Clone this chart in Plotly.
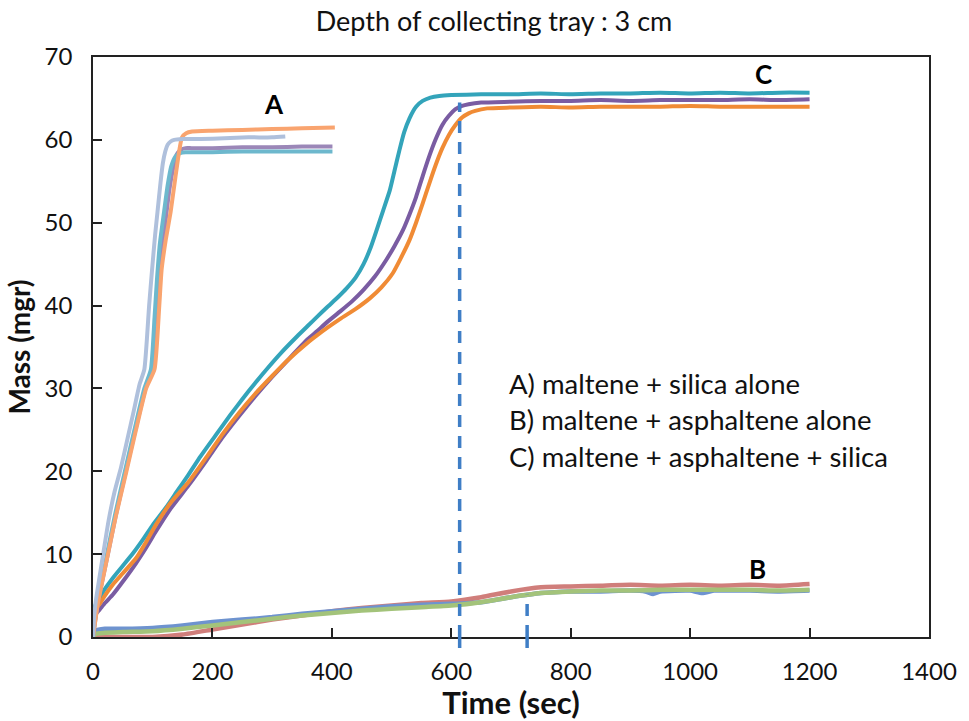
import plotly.graph_objects as go

# ---------------- data (time in sec, mass in mgr) ----------------
# A) maltene + silica alone
a_blue_t = [0, 2, 5, 10, 17, 26, 36, 47, 58, 68, 78, 86, 94, 99, 104, 108, 113, 117, 121, 125, 130, 136, 150, 180, 220, 260, 300, 322]
a_blue_m = [0, 2.5, 4.5, 6.8, 10.0, 14.0, 17.5, 20.5, 24.0, 27.2, 30.5, 32.3, 40.0, 44.4, 48.5, 51.3, 54.8, 57.2, 58.6, 59.4, 59.8, 60.0, 60.1, 60.1, 60.2, 60.3, 60.3, 60.4]

a_orange_t = [0, 3, 8, 15, 25, 38, 56, 72, 89, 103, 111, 115, 122, 130, 138, 144, 149, 156, 166, 200, 250, 300, 350, 405]
a_orange_m = [0, 1.5, 4.0, 6.5, 10.0, 14.5, 20.0, 25.0, 30.0, 32.3, 40.0, 44.4, 48.0, 51.3, 55.5, 58.5, 60.3, 60.8, 61.0, 61.1, 61.2, 61.3, 61.4, 61.5]

a_teal_t = [0, 3, 8, 15, 24, 37, 54, 70, 86, 97, 103, 107, 112, 119, 125, 131, 138, 146, 155, 200, 250, 300, 350, 401]
a_teal_m = [0, 1.8, 4.2, 6.8, 10.2, 14.8, 20.2, 25.2, 30.0, 32.3, 38.5, 43.0, 47.5, 51.3, 54.5, 56.8, 58.0, 58.4, 58.5, 58.5, 58.6, 58.6, 58.6, 58.6]

a_purple_t = [0, 3, 8, 15, 25, 38, 55, 71, 88, 100, 107, 111, 116, 122, 128, 134, 140, 147, 155, 165, 200, 250, 300, 350, 401]
a_purple_m = [0, 1.6, 4.1, 6.6, 10.0, 14.6, 20.0, 25.0, 30.0, 32.3, 38.5, 42.5, 46.5, 50.5, 54.0, 56.5, 58.2, 58.8, 59.0, 59.0, 59.0, 59.1, 59.1, 59.2, 59.2]

# C) maltene + asphaltene + silica
c_teal_t = [0, 5, 11, 20, 33, 50, 67, 85, 100, 122, 140, 160, 180, 205, 230, 250, 271, 293, 315, 342, 359, 376, 392, 410,
            425, 440, 453, 465, 475, 486, 497, 505, 513, 521, 530, 541, 552, 565, 580, 600,
            650, 700, 750, 800, 850, 900, 950, 1000, 1050, 1100, 1150, 1200]
c_teal_m = [3.0, 4.0, 4.7, 5.8, 7.1, 8.6, 10.1, 11.9, 13.5, 15.6, 17.5, 19.6, 21.8, 24.3, 26.8, 28.7, 30.6, 32.5, 34.3, 36.3, 37.5, 38.7, 39.8, 41.0,
            42.1, 43.4, 45.0, 47.0, 49.1, 51.5, 53.9, 56.3, 58.7, 60.9, 62.6, 64.0, 64.7, 65.1, 65.3, 65.4,
            65.5, 65.5, 65.6, 65.5, 65.6, 65.6, 65.7, 65.6, 65.7, 65.6, 65.7, 65.7]

c_purple_t = [0, 5, 11, 20, 33, 50, 72, 90, 105, 130, 160, 190, 216, 245, 271, 300, 326, 359, 375, 392, 414, 435, 453,
              472, 491, 505, 519, 530, 541, 552, 563, 574, 585, 596, 607, 618, 629, 650,
              700, 750, 800, 850, 900, 950, 1000, 1050, 1100, 1150, 1200]
c_purple_m = [2.0, 2.8, 3.3, 4.1, 5.1, 6.7, 8.9, 10.9, 12.7, 15.5, 18.3, 21.3, 24.0, 26.7, 29.0, 31.4, 33.4, 35.9, 36.9, 38.0, 39.3, 40.6, 41.9,
              43.5, 45.5, 47.2, 49.1, 51.0, 53.1, 55.6, 58.0, 60.1, 61.8, 62.9, 63.7, 64.1, 64.3, 64.5,
              64.6, 64.7, 64.7, 64.8, 64.7, 64.8, 64.8, 64.8, 64.9, 64.8, 64.9]

c_orange_t = [0, 5, 11, 20, 33, 50, 72, 90, 105, 130, 160, 190, 216, 245, 271, 300, 326, 359, 375, 392, 414, 440, 464,
              483, 502, 516, 530, 541, 552, 563, 574, 585, 596, 607, 618, 629, 640, 660,
              700, 750, 800, 850, 900, 950, 1000, 1050, 1100, 1150, 1200]
c_orange_m = [2.5, 3.4, 4.0, 5.0, 6.3, 7.7, 9.5, 11.6, 13.5, 16.2, 18.7, 21.7, 24.4, 27.1, 29.3, 31.5, 33.4, 35.5, 36.4, 37.3, 38.4, 39.6, 40.9,
              42.2, 43.9, 45.8, 47.9, 50.0, 52.3, 54.7, 57.0, 59.0, 60.6, 61.8, 62.7, 63.2, 63.5, 63.8,
              63.9, 64.0, 63.9, 64.0, 64.0, 64.0, 64.1, 64.0, 64.0, 64.0, 64.0]

# B) maltene + asphaltene alone
b_red_t = [0, 50, 100, 150, 200, 250, 300, 350, 400, 450, 500, 550, 600, 650, 700, 750, 800, 850, 900, 950, 1000, 1050, 1100, 1150, 1200]
b_red_m = [0, 0, 0.0, 0.3, 0.9, 1.5, 2.1, 2.6, 3.1, 3.5, 3.8, 4.1, 4.3, 4.8, 5.5, 6.0, 6.1, 6.2, 6.3, 6.2, 6.3, 6.2, 6.3, 6.2, 6.4]

b_blue_t = [0, 5, 20, 50, 100, 150, 200, 250, 300, 350, 400, 450, 500, 550, 600, 650, 700, 750, 800, 850, 900, 925, 938, 950,
            1000, 1020, 1040, 1050, 1100, 1150, 1200]
b_blue_m = [0, 0.8, 1.0, 1.0, 1.1, 1.4, 1.8, 2.1, 2.4, 2.8, 3.1, 3.4, 3.7, 3.9, 4.0, 4.2, 4.8, 5.3, 5.5, 5.5, 5.6, 5.5, 5.2, 5.5,
            5.6, 5.3, 5.6, 5.6, 5.6, 5.5, 5.6]

b_green_t = [0, 5, 20, 50, 100, 150, 200, 250, 300, 350, 400, 450, 500, 550, 600, 650, 700, 750, 800, 850, 900, 950, 1000, 1050, 1100, 1150, 1200]
b_green_m = [0, 0.4, 0.5, 0.6, 0.7, 1.0, 1.4, 1.8, 2.2, 2.6, 2.9, 3.2, 3.4, 3.6, 3.8, 4.2, 4.8, 5.3, 5.5, 5.6, 5.6, 5.7, 5.7, 5.7, 5.7, 5.6, 5.7]

# vertical markers: (time, mass where the marker meets the curve)
marker_t = [614, 727]
marker_m = [64.5, 5.1]

# curve labels
label_text = ["A", "B", "C"]
label_t = [303, 1113, 1123]
label_m = [64.3, 8.2, 68.0]

legend_lines = ["A) maltene + silica alone",
                "B) maltene + asphaltene alone",
                "C) maltene + asphaltene + silica"]
legend_t = 693
legend_m = [30.6, 26.2, 21.8]

x_ticks = [0, 200, 400, 600, 800, 1000, 1200, 1400]
y_ticks = [0, 10, 20, 30, 40, 50, 60, 70]

FONT = "Lato, Carlito, 'Open Sans', sans-serif"

fig = go.Figure()

def add_curve(t, m, color, width=4):
    fig.add_trace(go.Scatter(x=t, y=m, mode="lines",
                             line=dict(color=color, width=width, shape="spline", smoothing=0.5),
                             hoverinfo="skip", showlegend=False))

# B group
add_curve(b_red_t, b_red_m, "#D07E7B", 4.5)
add_curve(b_blue_t, b_blue_m, "#6E93CF", 4.5)
add_curve(b_green_t, b_green_m, "#A3C37A", 4.5)

# C group
add_curve(c_teal_t, c_teal_m, "#33A4BA")
add_curve(c_purple_t, c_purple_m, "#7A5CA2")
add_curve(c_orange_t, c_orange_m, "#F08B35")

# A group
add_curve(a_purple_t, a_purple_m, "#9B87B8")
add_curve(a_teal_t, a_teal_m, "#6DB8CD")
add_curve(a_orange_t, a_orange_m, "#F9A46F")
add_curve(a_blue_t, a_blue_m, "#AFC0DC")

# dashed markers: data part plus a short stub crossing the axis
for t, m in zip(marker_t, marker_m):
    fig.add_shape(type="line", xref="x", yref="y", x0=t, x1=t, y0=0, y1=m,
                  line=dict(color="#3F7EC6", width=3.5, dash="12px,9px"), layer="above")
    fig.add_shape(type="line", xref="x", yref="paper", x0=t, x1=t, y0=-0.019, y1=0,
                  line=dict(color="#3F7EC6", width=3.5), layer="above")

for txt, t, m in zip(label_text, label_t, label_m):
    fig.add_annotation(x=t, y=m, xref="x", yref="y", text=f"<b>{txt}</b>", showarrow=False,
                       font=dict(family=FONT, size=26, color="black"))

for txt, m in zip(legend_lines, legend_m):
    fig.add_annotation(x=legend_t, y=m, xref="x", yref="y", text=txt, showarrow=False,
                       xanchor="left", yanchor="middle",
                       font=dict(family=FONT, size=27.5, color="#111"))

axis_common = dict(showline=True, linecolor="#222", linewidth=1.5, mirror=True,
                   ticks="inside", ticklen=9, tickwidth=1.5, tickcolor="#222",
                   showgrid=False, zeroline=False,
                   tickfont=dict(family=FONT, size=24, color="#111"))

fig.update_layout(
    width=969, height=721,
    margin=dict(l=93, r=30, t=57, b=82),
    paper_bgcolor="white", plot_bgcolor="white",
    title=dict(text="Depth of collecting tray : 3 cm", x=494 / 969, xref="container", xanchor="center",
               y=1 - 22 / 721, yref="container", yanchor="middle",
               font=dict(family=FONT, size=27, color="#111")),
    xaxis=dict(range=[0, 1400], tickvals=x_ticks, ticklabelstandoff=12,
               title=dict(text="<b>Time (sec)</b>", font=dict(family=FONT, size=31, color="#111"), standoff=3),
               **axis_common),
    yaxis=dict(range=[0, 70], tickvals=y_ticks, ticklabelstandoff=14,
               title=dict(text="<b>Mass (mgr)</b>", font=dict(family=FONT, size=28, color="#111"), standoff=6),
               **axis_common),
)

fig.write_html("out.html")
